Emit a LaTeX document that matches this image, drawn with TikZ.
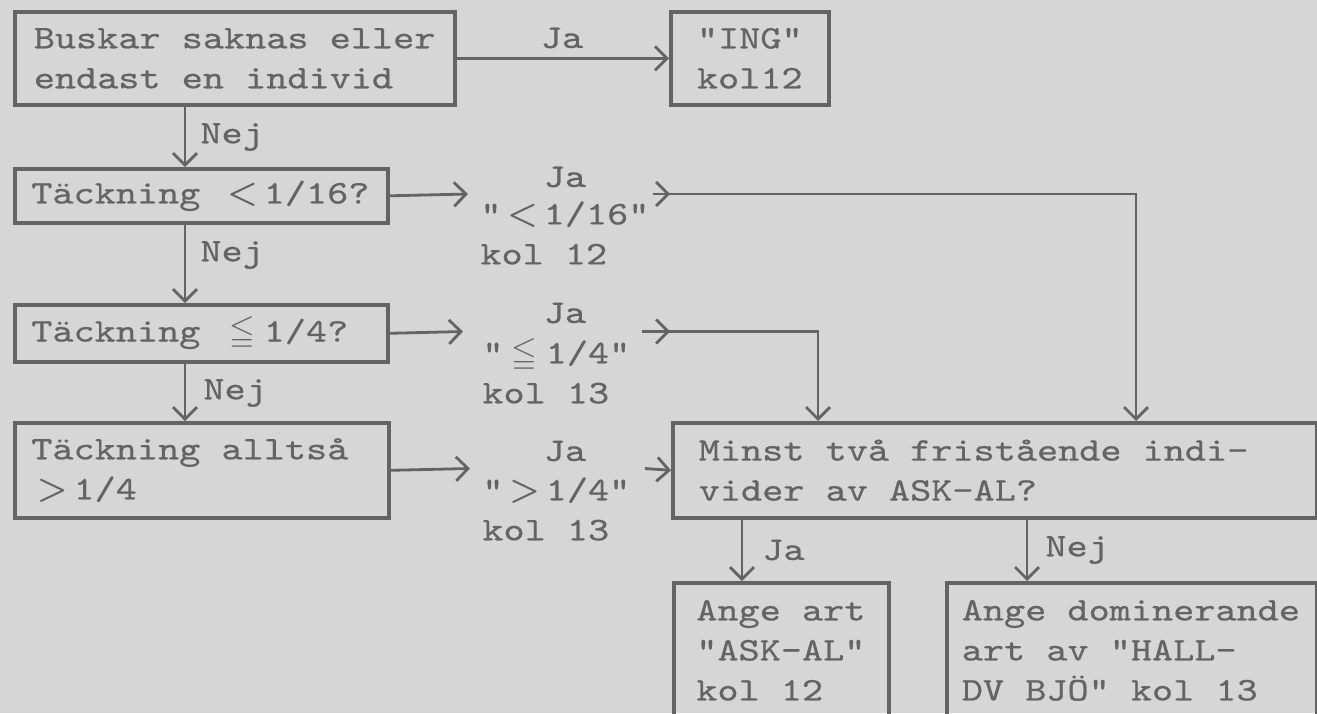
\documentclass[tikz,border=0pt]{standalone}
\usepackage{amssymb}
\usepackage{fontspec}
\setmonofont{lmmono10-regular.otf}[FakeStretch=1.22,FakeBold=0.6]
\usepackage{tikz}
\usetikzlibrary{arrows.meta}
\definecolor{ink}{RGB}{100,100,100}
\definecolor{paper}{RGB}{214,214,214}
\newcommand{\relsym}[1]{\makebox[21.1pt]{\boldmath$#1$}}
\newcommand{\typewriter}{\ttfamily\fontsize{16.5}{20}\selectfont\spaceskip=10.57pt\relax}

\begin{document}
\begin{tikzpicture}[x=.5pt,y=-.5pt,font=\typewriter,
  box/.style={draw=ink,line width=1.8pt,text=ink,anchor=north west,align=flush left,inner xsep=10pt,inner ysep=0pt},
  lbl/.style={text=ink,inner sep=0pt},
  arr/.style={draw=ink,line width=1.4pt,-{Straight Barb[length=6pt,width=12pt,line width=1.4pt]}}]
\fill[paper] (0,0) rectangle (1317,713);
\useasboundingbox (0,0) rectangle (1317,713);
% boxes
\node[box,inner xsep=9.5pt,text width=201pt,minimum height=46.5pt] (buskar) at (13,10) {Buskar saknas eller\\endast en individ};
\node[box,text width=59pt,align=center,minimum height=46.5pt] (ing) at (669,10) {"ING"\\kol12};
\node[box,inner xsep=8.25pt,text width=170pt,minimum height=27pt] (t16) at (13,167) {Täckning \relsym{<}1/16?};
\node[box,inner xsep=8.25pt,text width=170pt,minimum height=28.5pt] (t4) at (13,303) {Täckning \relsym{\leqq}1/4?};
\node[box,inner xsep=8.25pt,text width=170.5pt,minimum height=47.5pt] (tgt) at (13,421) {Täckning alltså\\\relsym{>}1/4};
\node[box,inner xsep=13pt,text width=296pt,minimum height=47.5pt] (minst) at (671,421) {Minst två fristående indi-\\vider av ASK-AL?};
\node[box,inner xsep=11.25pt,text width=85pt,minimum height=67.5pt] (askal) at (672,581) {Ange art\\"ASK-AL"\\kol 12};
\node[box,inner xsep=7.5pt,text width=170pt,minimum height=67.5pt] (halldv) at (945,581) {Ange dominerande\\art av "HALL-\\DV BJÖ" kol 13};
% results
\node[lbl] (ja0) at (562,38) {Ja};
\node[lbl] (ja1) at (565,177) {Ja};
\node[lbl,anchor=west,align=left] (r16) at (480,233) {"\relsym{<}1/16"\\kol 12};
\node[lbl] (ja2) at (565,313) {Ja};
\node[lbl,anchor=west,align=left] (r4) at (482,371) {"\relsym{\leqq}1/4"\\kol 13};
\node[lbl] (ja3) at (565,451) {Ja};
\node[lbl,anchor=west,align=left] (rgt) at (482,509) {"\relsym{>}1/4"\\kol 13};
\node[lbl,anchor=west] (nej1) at (200,137) {Nej};
\node[lbl,anchor=west] (nej2) at (200,255) {Nej};
\node[lbl,anchor=west] (nej3) at (203,393) {Nej};
\node[lbl,anchor=west] (jaA) at (762,550) {Ja};
\node[lbl,anchor=west] (nejB) at (1045,550) {Nej};
% connectors
\coordinate (spine) at (185,0);
\coordinate (jx) at (742,0);
\coordinate (nx) at (1027,0);
\coordinate (e16) at (468,194);
\coordinate (e4) at (463,331.5);
\coordinate (e3) at (470,468.5);
\coordinate (s16) at (653,194);
\coordinate (s4) at (642,331.5);
\coordinate (s3) at (645,468.5);
\coordinate (m16) at (1136,421);
\coordinate (m4) at (818,421);
\draw[arr] (buskar.east) -- (ing.west);
\draw[arr] (buskar.south -| spine) -- (t16.north -| spine);
\draw[arr] (t16.south -| spine) -- (t4.north -| spine);
\draw[arr] (t4.south -| spine) -- (tgt.north -| spine);
\draw[arr] (t16.east) -- (e16);
\draw[arr] (t4.east) -- (e4);
\draw[arr] (tgt.east) -- (e3);
\draw[arr] (s16) -- ++(17,0);
\draw[arr] (s16) -| (m16);
\draw[arr] (s4) -- ++(28,0);
\draw[arr] (s4) -| (m4);
\draw[arr] (s3) -- (minst.west);
\draw[arr] (minst.south -| jx) -- (askal.north -| jx);
\draw[arr] (minst.south -| nx) -- (halldv.north -| nx);
\end{tikzpicture}
\end{document}
